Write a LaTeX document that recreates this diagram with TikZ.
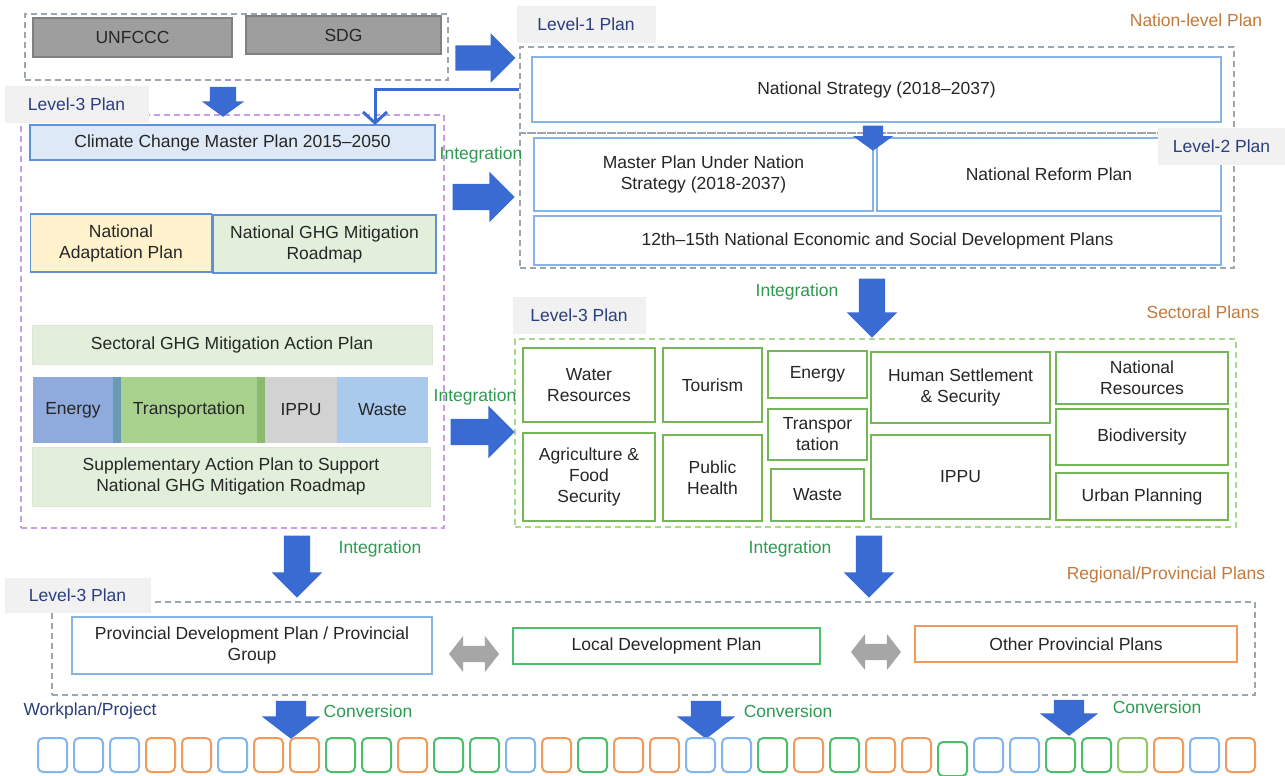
\documentclass[tikz,border=0pt]{standalone}
\usepackage{fontspec}
\setmainfont{Liberation Sans}
\usetikzlibrary{shapes.arrows,arrows.meta}

\definecolor{arrowblue}{HTML}{3A6BD2}
\definecolor{tabfill}{HTML}{F1F1F1}
\definecolor{tabtext}{HTML}{2B3F7E}
\definecolor{dashgray}{HTML}{9CA6B0}
\definecolor{dashpurple}{HTML}{C99CE8}
\definecolor{dashgreen}{HTML}{A8D890}
\definecolor{natblue}{HTML}{86B4E6}
\definecolor{boxblue}{HTML}{5F91D8}
\definecolor{sectgreen}{HTML}{76B656}
\definecolor{intgreen}{HTML}{2E9A52}
\definecolor{lvlorange}{HTML}{C27A3E}
\definecolor{ccmpfill}{HTML}{DDE9F7}
\definecolor{napfill}{HTML}{FFF2CC}
\definecolor{ghgfill}{HTML}{E2EFDA}
\definecolor{ghgline}{HTML}{DCE5D6}
\definecolor{energyfill}{HTML}{8FAADC}
\definecolor{stripblue}{HTML}{6C9AB5}
\definecolor{transfill}{HTML}{A9D18E}
\definecolor{stripgreen}{HTML}{8CBA6E}
\definecolor{ippufill}{HTML}{D2D2D2}
\definecolor{wastefill}{HTML}{A9CAEC}
\definecolor{wpb}{HTML}{82B5EC}
\definecolor{wpo}{HTML}{F09A5E}
\definecolor{wpg}{HTML}{4DBE6C}
\definecolor{wpl}{HTML}{94C66C}

\tikzset{
  every node/.style={font=\fontsize{17.5}{21}\selectfont, text=black!85},
  wh/.style 2 args={minimum width=#1pt, minimum height=#2pt},
  grp/.style={draw=#1, dash pattern=on 6pt off 4pt, line width=1.8pt, inner sep=0pt},
  plan/.style={draw=#1, line width=1.6pt, fill=white, align=center, inner sep=0pt},
  tab/.style={fill=tabfill, draw=black!6, text=tabtext, inner sep=0pt},
  intlabel/.style={text=intgreen},
  lvllabel/.style={text=lvlorange},
  rarrow/.style={single arrow, draw=none, fill=arrowblue, inner xsep=0pt},
  darrow/.style={rarrow, rotate=-90},
  gdarrow/.style={double arrow, draw=none, fill=black!35, inner xsep=0pt, inner ysep=8pt,
    minimum height=50pt, double arrow head extend=10pt, double arrow tip angle=104},
  wpbox/.style={rounded corners=5pt, line width=2pt, inner sep=0pt, minimum width=29pt, minimum height=34pt},
  elbowarrow/.style={draw=arrowblue, line width=3pt, -{Straight Barb[length=11pt,width=24pt]}}
}

\begin{document}
\begin{tikzpicture}[x=1pt,y=-1pt]
\fill[white] (0,0) rectangle (1285,776);
\useasboundingbox (0,0) rectangle (1285,776);

% dashed groups
\node[grp=dashgray, wh={423}{66}] (grpintl) at (236.5,47) {};
\node[grp=dashgray, wh={714}{86}] (grplvone) at (877,90) {};
\node[grp=dashgray, wh={714}{135}] (grplvtwo) at (877,200.5) {};
\node[grp=dashpurple, wh={423}{413}] (grpclim) at (232.5,321.5) {};
\node[grp=dashgreen, wh={721}{188}] (grpsect) at (875.5,433) {};
\node[grp=dashgray, wh={1203}{93}] (grpprov) at (653.5,648.5) {};

% international
\node[plan=black!50, fill=black!38, wh={199}{39}] (unfccc) at (132.5,37.5) {UNFCCC};
\node[plan=black!50, fill=black!38, wh={195}{38}] (sdg) at (343.5,35) {SDG};

% level-1 and level-2
\node[plan=natblue, wh={689}{65}] (natstrat) at (876.5,89.5) {National Strategy (2018–2037)};
\node[plan=natblue, wh={339}{73}] (master) at (703.5,174.5) {Master Plan Under Nation\\Strategy (2018-2037)};
\node[plan=natblue, wh={344}{73}] (reform) at (1049,174.5) {National Reform Plan};
\node[plan=natblue, wh={687}{49}] (twelfth) at (877.5,240.5) {12th–15th National Economic and Social Development Plans};

% climate plans
\node[plan=boxblue, fill=ccmpfill, wh={405}{35}] (ccmp) at (232.5,142.5) {Climate Change Master Plan 2015–2050};
\node[plan=boxblue, fill=napfill, wh={181}{58}] (nap) at (121,243) {National\\Adaptation Plan};
\node[plan=boxblue, fill=ghgfill, wh={223}{58}] (ghg) at (324.5,244) {National GHG Mitigation\\Roadmap};
\node[plan=ghgline, line width=0.8pt, fill=ghgfill, wh={400}{39}] (sectoral) at (232,344.5) {Sectoral GHG Mitigation Action Plan};
\node[plan=none, fill=energyfill, wh={80}{66}] (energy) at (73,410) {Energy};
\fill[stripblue] (113,377) rectangle (121,443);
\node[plan=none, fill=transfill, wh={136}{66}] (transp) at (189,410) {Transportation};
\fill[stripgreen] (257,377) rectangle (265,443);
\node[plan=none, fill=ippufill, wh={72}{66}] (ippu) at (301,410) {IPPU};
\node[plan=none, fill=wastefill, wh={91}{66}] (waste) at (382.5,410) {Waste};
\node[plan=ghgline, line width=0.8pt, fill=ghgfill, wh={398}{59}] (supp) at (231,476.5) {Supplementary Action Plan to Support\\National GHG Mitigation Roadmap};

% sectoral plans
\node[plan=sectgreen, wh={132}{74}] (water) at (589,385) {Water\\Resources};
\node[plan=sectgreen, wh={132}{88}] (agri) at (589,477) {Agriculture \&\\Food\\Security};
\node[plan=sectgreen, wh={99}{74}] (tourism) at (712.5,385) {Tourism};
\node[plan=sectgreen, wh={99}{86}] (health) at (712.5,478) {Public\\Health};
\node[plan=sectgreen, wh={99}{47}] (senergy) at (817.5,374.5) {Energy};
\node[plan=sectgreen, wh={99}{51}] (stransp) at (817.5,434.5) {Transpor\\tation};
\node[plan=sectgreen, wh={93}{52}] (swaste) at (817.5,495) {Waste};
\node[plan=sectgreen, wh={179}{71}] (human) at (960.5,387.5) {Human Settlement\\\& Security};
\node[plan=sectgreen, wh={179}{84}] (sippu) at (960.5,477) {IPPU};
\node[plan=sectgreen, wh={172}{52}] (natres) at (1142,378) {National\\Resources};
\node[plan=sectgreen, wh={172}{56}] (biodiv) at (1142,437) {Biodiversity};
\node[plan=sectgreen, wh={172}{47}] (urban) at (1142,496.5) {Urban Planning};

% provincial plans
\node[plan=natblue, wh={360}{57}] (prov) at (252,645.5) {Provincial Development Plan / Provincial\\Group};
\node[plan=wpg, wh={307}{36}] (local) at (666.5,646) {Local Development Plan};
\node[plan=wpo, wh={322}{36}] (other) at (1076,644) {Other Provincial Plans};
\node[gdarrow] (dbla) at (474,654) {};
\node[gdarrow] (dblb) at (876,652) {};

% tabs
\node[tab, wh={143}{36}] (tabclim) at (76.5,104) {Level-3 Plan};
\node[tab, wh={138}{36}] (tablvone) at (586,24) {Level-1 Plan};
\node[tab, wh={127}{36}] (tablvtwo) at (1221.5,146) {Level-2 Plan};
\node[tab, wh={132}{36}] (tabsect) at (579,315) {Level-3 Plan};
\node[tab, wh={145}{34}] (tabprov) at (77.5,595) {Level-3 Plan};

% labels
\node[lvllabel] (natlvl) at (1196,20) {Nation-level Plan};
\node[lvllabel] (sectlvl) at (1203,312) {Sectoral Plans};
\node[lvllabel] (provlvl) at (1166,575) {Regional/Provincial Plans};
\node[text=tabtext] (wplabel) at (90,711) {Workplan/Project};
\node[intlabel] (intla) at (481,155) {Integration};
\node[intlabel] (intlb) at (475,397) {Integration};
\node[intlabel] (intlc) at (797,292) {Integration};
\node[intlabel] (intld) at (380,549) {Integration};
\node[intlabel] (intle) at (790,549) {Integration};
\node[intlabel] (convla) at (368,711) {Conversion};
\node[intlabel] (convlb) at (788,711) {Conversion};
\node[intlabel] (convlc) at (1157,707) {Conversion};

% block arrows
\node[rarrow, minimum height=60pt, inner ysep=12.5pt, single arrow head extend=12pt] (arrtop) at (479,58) {};
\node[rarrow, minimum height=62pt, inner ysep=13pt, single arrow head extend=12pt] (arrinta) at (477,197) {};
\node[rarrow, minimum height=64pt, inner ysep=13pt, single arrow head extend=13pt] (arrintb) at (476,432) {};
\node[darrow, minimum height=30pt, inner ysep=13pt, single arrow head extend=8pt, single arrow tip angle=108] (arrclim) at (223,97) {};
\node[darrow, minimum height=25pt, inner ysep=10pt, single arrow head extend=10pt, single arrow tip angle=108] (arrnat) at (873,134.5) {};
\node[darrow, minimum height=59pt, inner ysep=13pt, single arrow head extend=12pt] (arrsect) at (872,301.5) {};
\node[darrow, minimum height=62pt, inner ysep=13pt, single arrow head extend=12pt] (arrprova) at (297,560) {};
\node[darrow, minimum height=62pt, inner ysep=13pt, single arrow head extend=12pt] (arrprovb) at (869,560) {};
\node[darrow, minimum height=38pt, inner ysep=15pt, single arrow head extend=14pt, single arrow tip angle=105] (arrconva) at (291,714) {};
\node[darrow, minimum height=38pt, inner ysep=15pt, single arrow head extend=14pt, single arrow tip angle=105] (arrconvb) at (706,714) {};
\node[darrow, minimum height=36pt, inner ysep=15pt, single arrow head extend=14pt, single arrow tip angle=105] (arrconvc) at (1069,712) {};

% national strategy into the climate plans
\coordinate (ccmpin) at (375,125);
\draw[elbowarrow] (grplvone.west |- natstrat.center) -| (ccmpin);

% workplans and projects
\foreach \c/\dy [count=\i] in {b/0,b/0,b/0,o/0,o/0,b/0,o/0,o/0,g/0,g/0,o/0,g/0,g/0,b/0,o/0,g/0,o/0,
  o/0,b/0,b/0,g/0,o/0,g/0,o/0,o/0,g/4,b/0,b/0,g/0,g/0,l/0,o/0,b/0,o/0}
  \node[wpbox, draw=wp\c] (wp\i) at ({52.5+36*(\i-1)},{755+\dy}) {};
\end{tikzpicture}
\end{document}
